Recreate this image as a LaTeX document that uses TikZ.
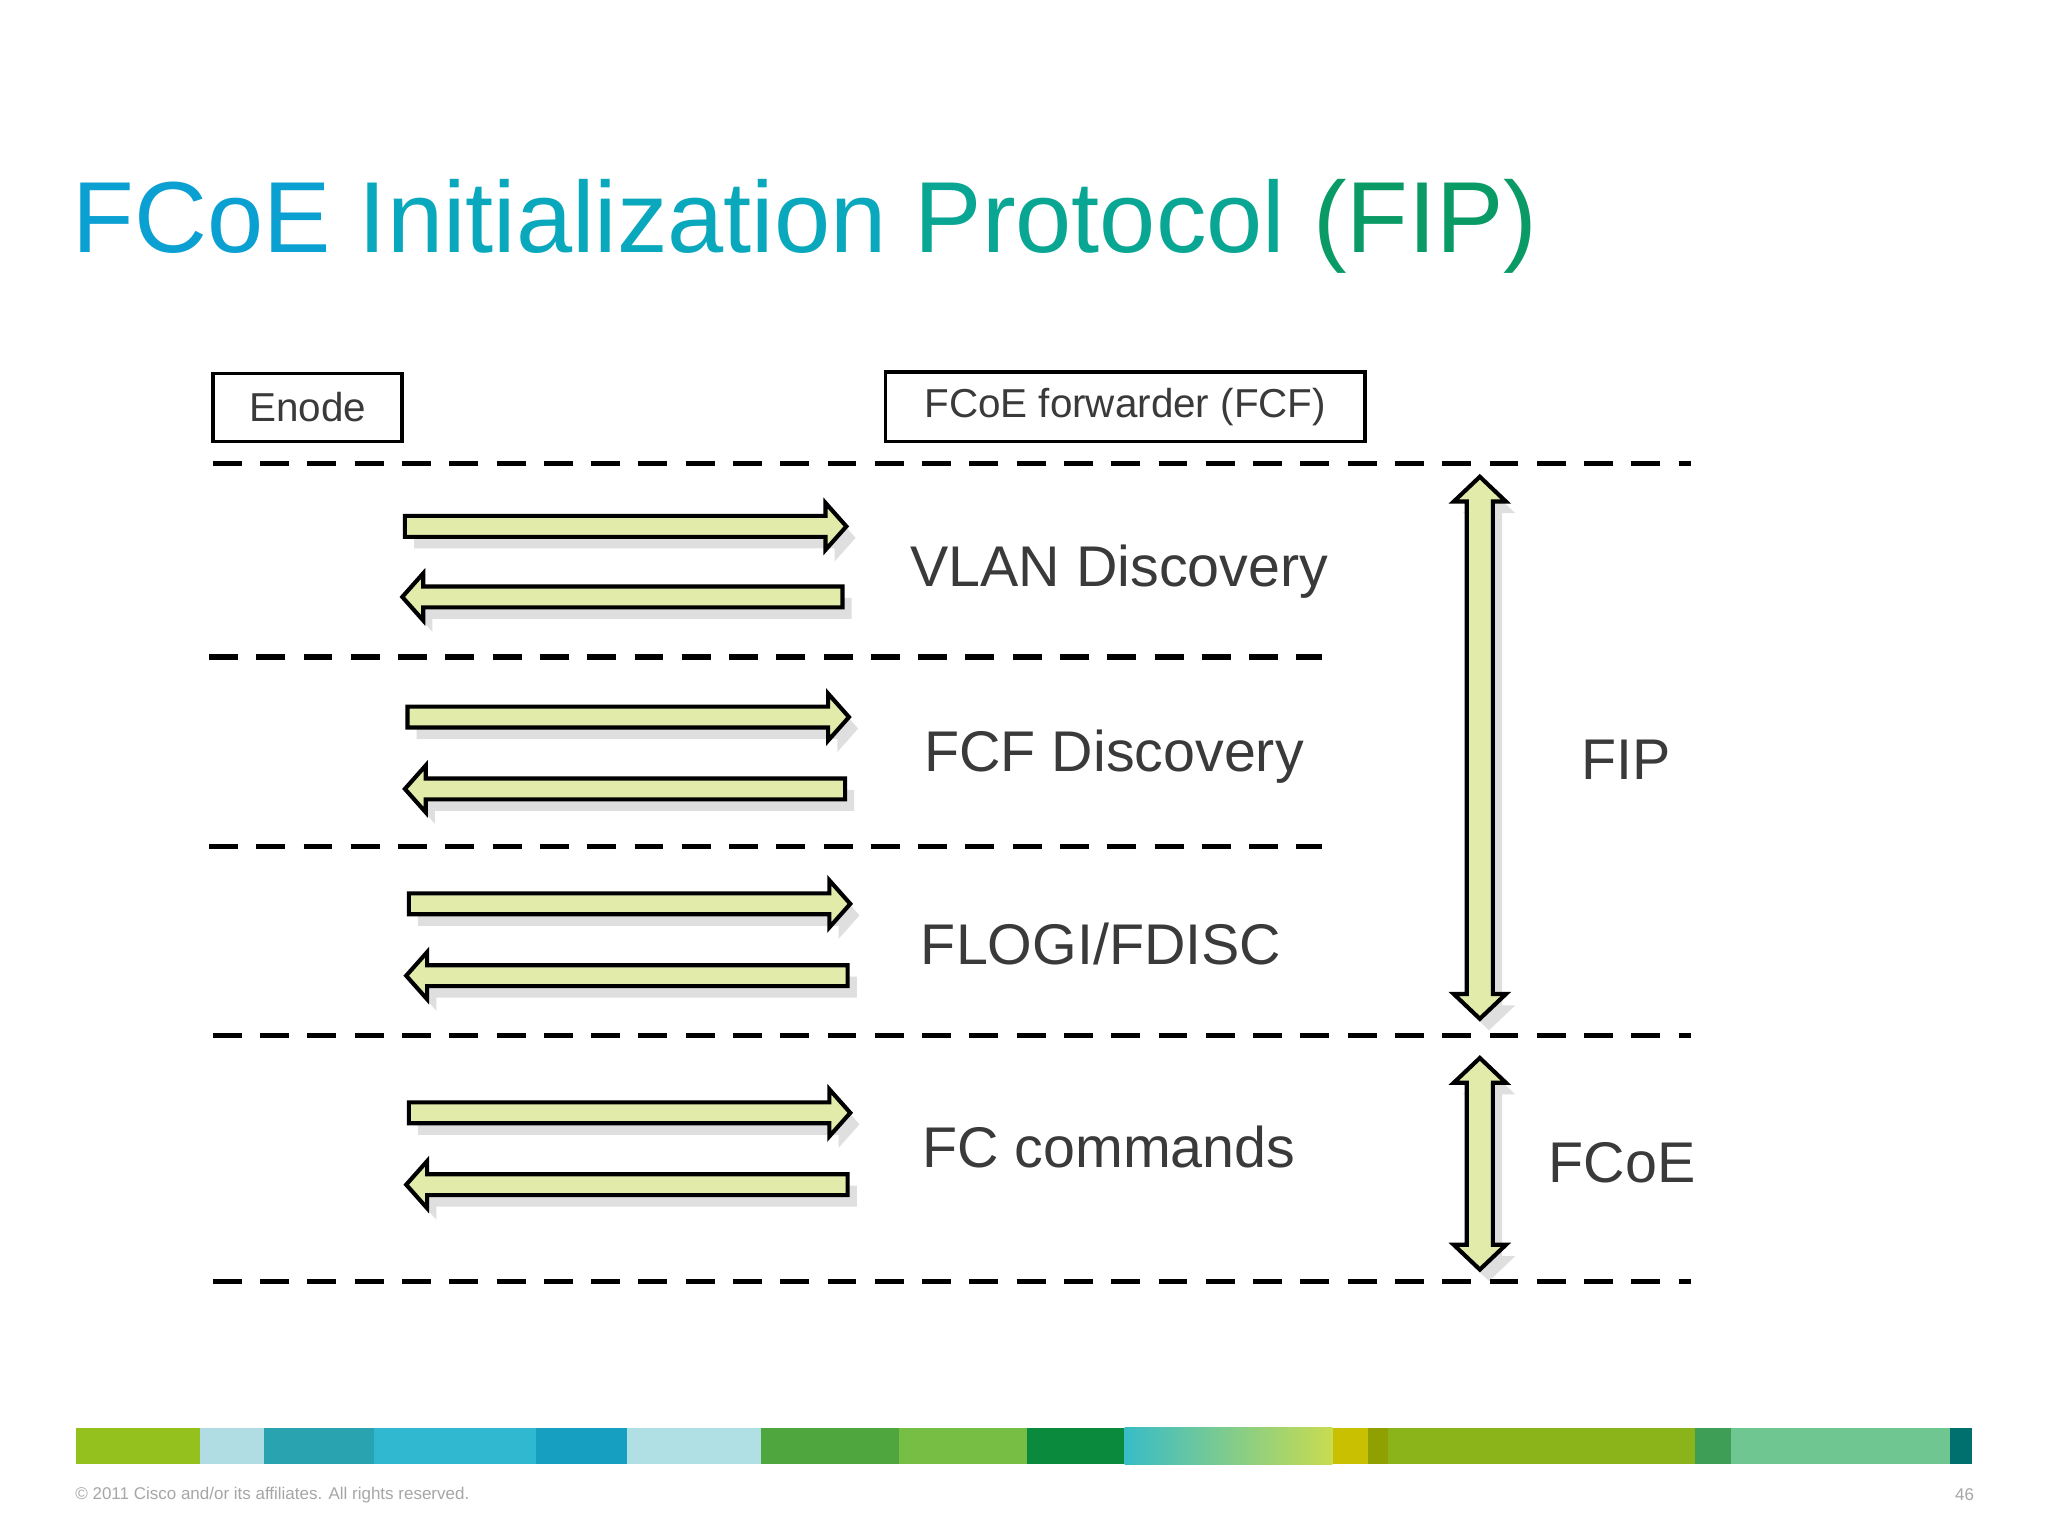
\documentclass[tikz,border=0pt]{standalone}
\usepackage{fontspec}
\setmainfont{Liberation Sans}
\usetikzlibrary{shadows}
\definecolor{txt}{HTML}{3A3A3A}
\definecolor{afill}{HTML}{E3EBAA}
\tikzset{
  blk/.style={draw=black, line width=0.9pt, fill=afill, line join=miter,
    drop shadow={opacity=0.25, shadow xshift=2pt, shadow yshift=-2.5pt}},
  sep/.style={line width=1.1pt, dash pattern=on 6.3pt off 4pt},
  lbl/.style={text=txt, font=\fontsize{12.5}{15}\selectfont, inner sep=0pt},
  box/.style={draw=black, line width=0.8pt, text=txt, font=\fontsize{8.8}{11}\selectfont, inner sep=0pt},
}
% right arrow: x1, x2, y
\newcommand\rarr[3]{\path[blk] ({#1},{#3-8}) -- ({#2-16},{#3-8}) -- ({#2-16},{#3-18}) -- (#2,#3) -- ({#2-16},{#3+18}) -- ({#2-16},{#3+8}) -- ({#1},{#3+8}) -- cycle;}
\newcommand\larr[3]{\path[blk] ({#2},{#3-8}) -- ({#1+16},{#3-8}) -- ({#1+16},{#3-18}) -- (#1,#3) -- ({#1+16},{#3+18}) -- ({#1+16},{#3+8}) -- ({#2},{#3+8}) -- cycle;}
% vertical double arrow: x, y1, y2
\newcommand\varr[3]{\path[blk] (#1,#2) -- ({#1+20},{#2+19}) -- ({#1+10},{#2+19}) -- ({#1+10},{#3-19}) -- ({#1+20},{#3-19}) -- (#1,#3) -- ({#1-20},{#3-19}) -- ({#1-10},{#3-19}) -- ({#1-10},{#2+19}) -- ({#1-20},{#2+19}) -- cycle;}
\begin{document}
\begin{tikzpicture}[x=0.1mm,y=-0.1mm]
\useasboundingbox[fill=white] (0,0) rectangle (1568,1176);
% title
\node[anchor=base west, inner sep=0pt, font=\fontsize{22}{26}\selectfont] (title) at (55,193)
  {\textcolor[HTML]{0AA0D2}{FCoE} \textcolor[HTML]{0AA8BC}{Initialization} \textcolor[HTML]{0AA694}{Protocol} \textcolor[HTML]{0A9A66}{(FIP)}};
% header boxes
\node[box, minimum width=145*0.1mm, minimum height=52*0.1mm] (enode) at (235.5,312) {Enode};
\node[box, minimum width=367*0.1mm, minimum height=53*0.1mm] (fcf) at (861.5,311.5) {FCoE forwarder (FCF)};
% separators
\draw[sep] (163,355) -- (1295,355);
\draw[sep] (160,503) -- (1012,503);
\draw[sep] (160,648) -- (1012,648);
\draw[sep] (163,793) -- (1295,793);
\draw[sep] (163,981) -- (1295,981);
% message arrows
\rarr{310}{648}{403} \larr{308}{645}{457}
\rarr{312}{650}{549} \larr{310}{647}{604}
\rarr{313}{651}{692} \larr{311}{649}{747}
\rarr{313}{651}{852} \larr{311}{649}{907}
% phase arrows
\varr{1133}{365}{780}
\varr{1133}{810}{972}
% labels
\node[lbl] (vlan) at (857,438) {VLAN Discovery};
\node[lbl] (fcfd) at (853,579) {FCF Discovery};
\node[lbl] (flogi) at (843,723) {FLOGI/FDISC};
\node[lbl] (fccmd) at (849,878) {FC commands};
\node[lbl] (fip) at (1245,582) {FIP};
\node[lbl] (fcoe) at (1242,890) {FCoE};
% colour bar
\foreach \a/\b/\c in {58/153/95C11F,153/202/B0DDE4,202/286/2AA3B0,286/410/30B8D0,410/480/169FC0,480/583/B0DFE4,583/688/4FA63F,688/786/76BF44,786/861/0A8A3C,1020/1047/C8C000,1047/1063/8FA000,1063/1298/8BB31A,1298/1325/3F9E55,1325/1493/70C690,1493/1510/00706E}{
  \definecolor{seg}{HTML}{\c}
  \fill[seg] (\a,1093) rectangle (\b,1121);
}
\definecolor{ga}{HTML}{38BCC8}\definecolor{gb}{HTML}{C8DC50}
\shade[left color=ga, right color=gb] (861,1093) rectangle (1020,1121);
% footer
\node[anchor=west, inner sep=0pt, text=black!35, font=\fontsize{3.7}{5}\selectfont] (copy) at (57,1145) {\textcopyright{} 2011 Cisco and/or its affiliates. All rights reserved.};
\node[anchor=east, inner sep=0pt, text=black!35, font=\fontsize{3.7}{5}\selectfont] (page) at (1512,1144) {46};
\end{tikzpicture}
\end{document}
